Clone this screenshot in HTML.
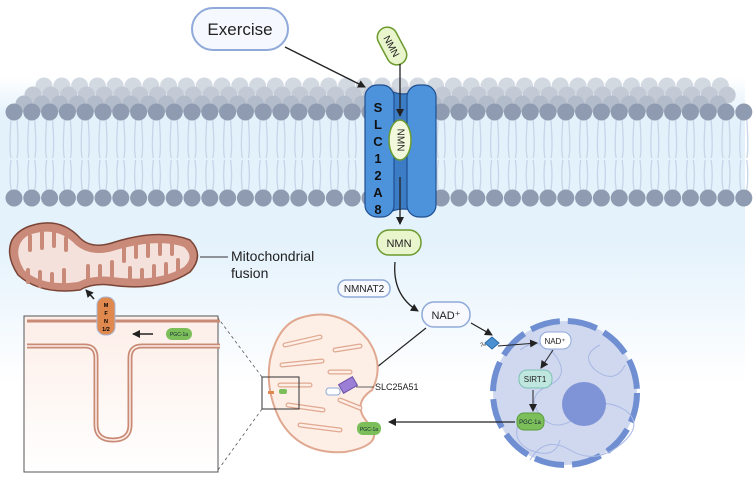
<!DOCTYPE html>
<html><head><meta charset="utf-8"><style>
html,body{margin:0;padding:0;background:#fff;}
svg{display:block;font-family:"Liberation Sans",sans-serif;}
</style></head><body>
<svg width="754" height="481" viewBox="0 0 754 481">
<defs>
<linearGradient id="bg" x1="0" y1="0" x2="0" y2="1">
<stop offset="0" stop-color="#ffffff"/><stop offset="0.16" stop-color="#ffffff"/><stop offset="0.24" stop-color="#e3f1fb"/><stop offset="0.5" stop-color="#e4f2fc"/><stop offset="0.8" stop-color="#ffffff"/>
</linearGradient>
<linearGradient id="boxg" x1="0" y1="0" x2="0" y2="1"><stop offset="0" stop-color="#fdeee8"/><stop offset="1" stop-color="#ffffff"/></linearGradient>
<marker id="ah" markerWidth="8" markerHeight="8" refX="7" refY="4" orient="auto" markerUnits="userSpaceOnUse"><path d="M0,0 L8,4 L0,8 z" fill="#222"/></marker>
</defs>
<rect x="0" y="0" width="745" height="481" fill="url(#bg)"/>
<g id="membrane"></g>

<g>
<path d="M386,88 Q403,100 420,88 L420,214 Q403,204 386,214 Z" fill="#3c7cc4" stroke="#1f4f90" stroke-width="1.2"/>
<rect x="365" y="85" width="29" height="132" rx="12" fill="#4d93dc" stroke="#1f4f90" stroke-width="1.2"/>
<rect x="407" y="85" width="29" height="132" rx="12" fill="#4d93dc" stroke="#1f4f90" stroke-width="1.2"/>
<text x="378" y="112" font-size="13" font-weight="bold" text-anchor="middle" fill="#111">S</text>
<text x="378" y="129" font-size="13" font-weight="bold" text-anchor="middle" fill="#111">L</text>
<text x="378" y="146" font-size="13" font-weight="bold" text-anchor="middle" fill="#111">C</text>
<text x="378" y="163" font-size="13" font-weight="bold" text-anchor="middle" fill="#111">1</text>
<text x="378" y="180" font-size="13" font-weight="bold" text-anchor="middle" fill="#111">2</text>
<text x="378" y="197" font-size="13" font-weight="bold" text-anchor="middle" fill="#111">A</text>
<text x="378" y="214" font-size="13" font-weight="bold" text-anchor="middle" fill="#111">8</text>
</g>
<ellipse cx="400" cy="140" rx="11" ry="20" fill="#f2f8dc" stroke="#6c9a2e" stroke-width="1.5"/>
<text x="400" y="140" font-size="10" text-anchor="middle" dominant-baseline="middle" transform="rotate(90 400 140)" fill="#222">NMN</text>

<g>
<rect x="192" y="8" width="96" height="42" rx="21" fill="#f5f8fe" stroke="#8fa9d8" stroke-width="2"/>
<text x="240" y="35" font-size="17" text-anchor="middle" fill="#222">Exercise</text>
</g>
<line x1="285" y1="47" x2="365" y2="87" stroke="#222" stroke-width="1.4" marker-end="url(#ah)"/>
<g transform="rotate(62 392 46)">
<rect x="372" y="36" width="40" height="20" rx="10" fill="#e9f5cc" stroke="#6c9a2e" stroke-width="1.5"/>
<text x="392" y="50" font-size="10" text-anchor="middle" fill="#222">NMN</text>
</g>
<line x1="400" y1="64" x2="400" y2="116" stroke="#222" stroke-width="1.3" marker-end="url(#ah)"/>
<line x1="400" y1="177" x2="400" y2="224" stroke="#222" stroke-width="1.3" marker-end="url(#ah)"/>

<g>
<rect x="377" y="230" width="44" height="25" rx="12" fill="#e9f5cc" stroke="#6c9a2e" stroke-width="1.5"/>
<text x="399" y="247" font-size="11" text-anchor="middle" fill="#222">NMN</text>
</g>
<path d="M395,262 Q392,295 418,311" fill="none" stroke="#222" stroke-width="1.3" marker-end="url(#ah)"/>
<g>
<rect x="338" y="280" width="52" height="17" rx="8" fill="#f7f9ff" stroke="#8fa9d8" stroke-width="1.5"/>
<text x="364" y="292" font-size="10" text-anchor="middle" fill="#222">NMNAT2</text>
</g>
<g>
<rect x="422" y="302" width="48" height="25" rx="12" fill="#f7f9ff" stroke="#8fa9d8" stroke-width="1.5"/>
<text x="446" y="319" font-size="11" text-anchor="middle" fill="#222">NAD⁺</text>
</g>
<line x1="426" y1="328" x2="362" y2="379" stroke="#222" stroke-width="1.2" marker-end="url(#ah)"/>
<line x1="471" y1="323" x2="492" y2="335" stroke="#222" stroke-width="1.2" marker-end="url(#ah)"/>

<g>
<circle cx="565" cy="393" r="72" fill="#cfd8ef"/>
<circle cx="565" cy="393" r="72" fill="none" stroke="#6f8fd2" stroke-width="6" stroke-dasharray="30 8"/>
<path d="M520,350 q20,-15 35,5 q15,20 -5,30 q-25,10 -10,30 q15,20 40,0 q20,-20 45,-5 q20,15 -5,35 q-25,20 -50,5 q-25,-15 -40,10 M600,345 q-20,10 -5,25 q20,15 30,-5 M520,420 q-10,20 10,30 q25,10 30,-10" fill="none" stroke="#a9b8e4" stroke-width="1"/>
<circle cx="584" cy="404" r="22" fill="#7f94d6"/>
</g>
<path d="M485,343 l7,-6 l7,6 l-7,6 z" fill="#4a90d0" stroke="#2a6aa8"/>
<text x="480" y="347" font-size="6" fill="#333">?</text>
<line x1="483" y1="345" x2="486" y2="345" stroke="#333" stroke-width="0.8"/>
<line x1="498" y1="346" x2="537" y2="343" stroke="#222" stroke-width="1" marker-end="url(#ah)"/>
<g>
<rect x="540" y="332" width="31" height="17" rx="8" fill="#fff" stroke="#8fa9d8"/>
<text x="555" y="344" font-size="8" text-anchor="middle" fill="#222">NAD⁺</text>
</g>
<line x1="553" y1="350" x2="541" y2="368" stroke="#222" stroke-width="1" marker-end="url(#ah)"/>
<g>
<rect x="519" y="370" width="33" height="18" rx="8" fill="#bfe6df" stroke="#7fc0b4"/>
<text x="535" y="382" font-size="8" text-anchor="middle" fill="#222">SIRT1</text>
</g>
<line x1="533" y1="390" x2="533" y2="411" stroke="#222" stroke-width="1" marker-end="url(#ah)"/>
<g>
<rect x="517" y="413" width="27" height="17" rx="7" fill="#7cbf5a" stroke="#5a9a3c"/>
<text x="530" y="424" font-size="6" text-anchor="middle" fill="#123">PGC-1a</text>
</g>
<line x1="515" y1="422" x2="389" y2="422" stroke="#222" stroke-width="1.2" marker-end="url(#ah)"/>

<g>
<path d="M300,318 Q340,305 368,340 Q385,365 372,390 Q350,405 370,425 Q385,445 345,452 Q300,455 280,420 Q265,390 270,360 Q278,325 300,318 Z" fill="#fdeee6" stroke="#e0a890" stroke-width="2"/>
<path d="M285,345 l35,-8 M282,365 l40,-4 M280,385 l30,0 M288,405 l35,5 M300,425 l40,5 M335,350 l25,-4 M330,372 l20,0 M340,400 l20,8" stroke="#e0a890" stroke-width="5" stroke-linecap="round" fill="none"/>
<path d="M285,345 l35,-8 M282,365 l40,-4 M280,385 l30,0 M288,405 l35,5 M300,425 l40,5 M335,350 l25,-4 M330,372 l20,0 M340,400 l20,8" stroke="#fdeee6" stroke-width="2.5" stroke-linecap="round" fill="none"/>
</g>
<rect x="340" y="380" width="16" height="10" transform="rotate(-30 348 385)" fill="#9b7fd6" stroke="#6a50a8"/>
<rect x="326" y="388" width="14" height="7" rx="3" fill="#fff" stroke="#8fa9d8"/>
<line x1="356" y1="387" x2="374" y2="387" stroke="#333" stroke-width="0.8"/>
<text x="375" y="390" font-size="9" fill="#222">SLC25A51</text>
<g>
<rect x="357" y="422" width="24" height="13" rx="6" fill="#7cbf5a"/>
<text x="369" y="431" font-size="5" text-anchor="middle" fill="#123">PGC-1a</text>
</g>
<rect x="262" y="377" width="37" height="32" fill="none" stroke="#333" stroke-width="1"/>
<rect x="268" y="391" width="6" height="3" fill="#e0894f"/>
<rect x="279" y="389" width="8" height="5" rx="2" fill="#7cbf5a"/>
<line x1="262" y1="377" x2="218" y2="318" stroke="#555" stroke-width="0.8" stroke-dasharray="3 3"/>
<line x1="262" y1="409" x2="218" y2="470" stroke="#555" stroke-width="0.8" stroke-dasharray="3 3"/>

<g>
<rect x="24" y="316" width="194" height="156" fill="url(#boxg)" stroke="#555" stroke-width="1"/>
<line x1="27" y1="321" x2="220" y2="321" stroke="#c98a76" stroke-width="3"/>
<path d="M27,346 L85,346 Q96,346 96,358 L96,425 Q96,440 113,440 Q130,440 130,425 L130,358 Q130,346 142,346 L220,346" fill="none" stroke="#c98a76" stroke-width="5"/>
<path d="M27,346 L85,346 Q96,346 96,358 L96,425 Q96,440 113,440 Q130,440 130,425 L130,358 Q130,346 142,346 L220,346" fill="none" stroke="#fdeee8" stroke-width="1.5"/>
</g>
<g>
<rect x="97" y="297" width="18" height="38" rx="8" fill="#e0894f" stroke="#a8b8d8"/>
<text x="106" y="307" font-size="5.5" font-weight="bold" text-anchor="middle">M</text>
<text x="106" y="315" font-size="5.5" font-weight="bold" text-anchor="middle">F</text>
<text x="106" y="323" font-size="5.5" font-weight="bold" text-anchor="middle">N</text>
<text x="106" y="331" font-size="5.5" font-weight="bold" text-anchor="middle">1/2</text>
</g>
<line x1="153" y1="334" x2="133" y2="334" stroke="#222" stroke-width="1.6" marker-end="url(#ah)"/>
<g>
<rect x="166" y="328" width="26" height="12" rx="6" fill="#7cbf5a"/>
<text x="179" y="336" font-size="5" text-anchor="middle" fill="#123">PGC-1a</text>
</g>
<line x1="94" y1="299" x2="86" y2="290" stroke="#222" stroke-width="1.6" marker-end="url(#ah)"/>

<g>
<path d="M30,226 Q60,216 80,238 Q92,250 115,242 Q160,228 190,240 Q205,255 190,272 Q160,292 110,285 Q92,283 80,290 Q40,295 18,275 Q5,255 12,240 Q18,230 30,226 Z" fill="#c98a7a" stroke="#7a4536" stroke-width="1.5"/>
<path d="M32,234 Q58,226 76,245 Q92,258 116,250 Q158,238 184,247 Q195,257 184,267 Q158,283 112,277 Q92,275 78,282 Q42,287 24,270 Q15,255 20,244 Q24,236 32,234 Z" fill="#f5e1dc"/>
<path d="M30,236 v14 M42,232 v16 M54,232 v14 M66,238 v12 M28,282 v-12 M40,286 v-14 M52,286 v-12 M64,284 v-14 M88,280 v-14 M100,278 v-12 M112,276 v-14 M124,247 v14 M136,243 v14 M148,240 v16 M160,240 v14 M172,242 v12 M130,282 v-14 M142,282 v-12 M154,280 v-14 M166,276 v-12 M178,270 v-10" stroke="#c98a7a" stroke-width="4" stroke-linecap="round"/>
</g>
<line x1="200" y1="257" x2="228" y2="257" stroke="#333" stroke-width="1"/>
<text x="231" y="261" font-size="14" fill="#222">Mitochondrial</text>
<text x="231" y="278" font-size="14" fill="#222">fusion</text>
</svg>
<script>
const g=document.getElementById('membrane');
const NS='http://www.w3.org/2000/svg';
function mk(t,a){const e=document.createElementNS(NS,t);for(const k in a)e.setAttribute(k,a[k]);g.appendChild(e);return e;}
const xs=[];for(let x=14;x<=745;x+=17.8)xs.push(x);
[[86,'#d3d9e1'],[95,'#c3cad5'],[104,'#b3bccb']].forEach(([y,c],i)=>{xs.forEach(x=>{const cx=x+(i%2?9:0)+(i===0?30:10);if(cx>735)return;mk('circle',{cx:cx,cy:y,r:8.5,fill:c});});});
xs.forEach(x=>{
mk('path',{d:`M${x-3},120 q-2,30 0,38 M${x+3},120 q2,30 0,38 M${x-3},160 q-2,15 0,30 M${x+3},160 q2,15 0,30`,stroke:'#c6d5e8','stroke-width':1.3,fill:'none'});
mk('circle',{cx:x,cy:112,r:8.5,fill:'#8e9bb0'});
mk('circle',{cx:x,cy:198,r:8.5,fill:'#8e9bb0'});});
</script>
</body></html>
